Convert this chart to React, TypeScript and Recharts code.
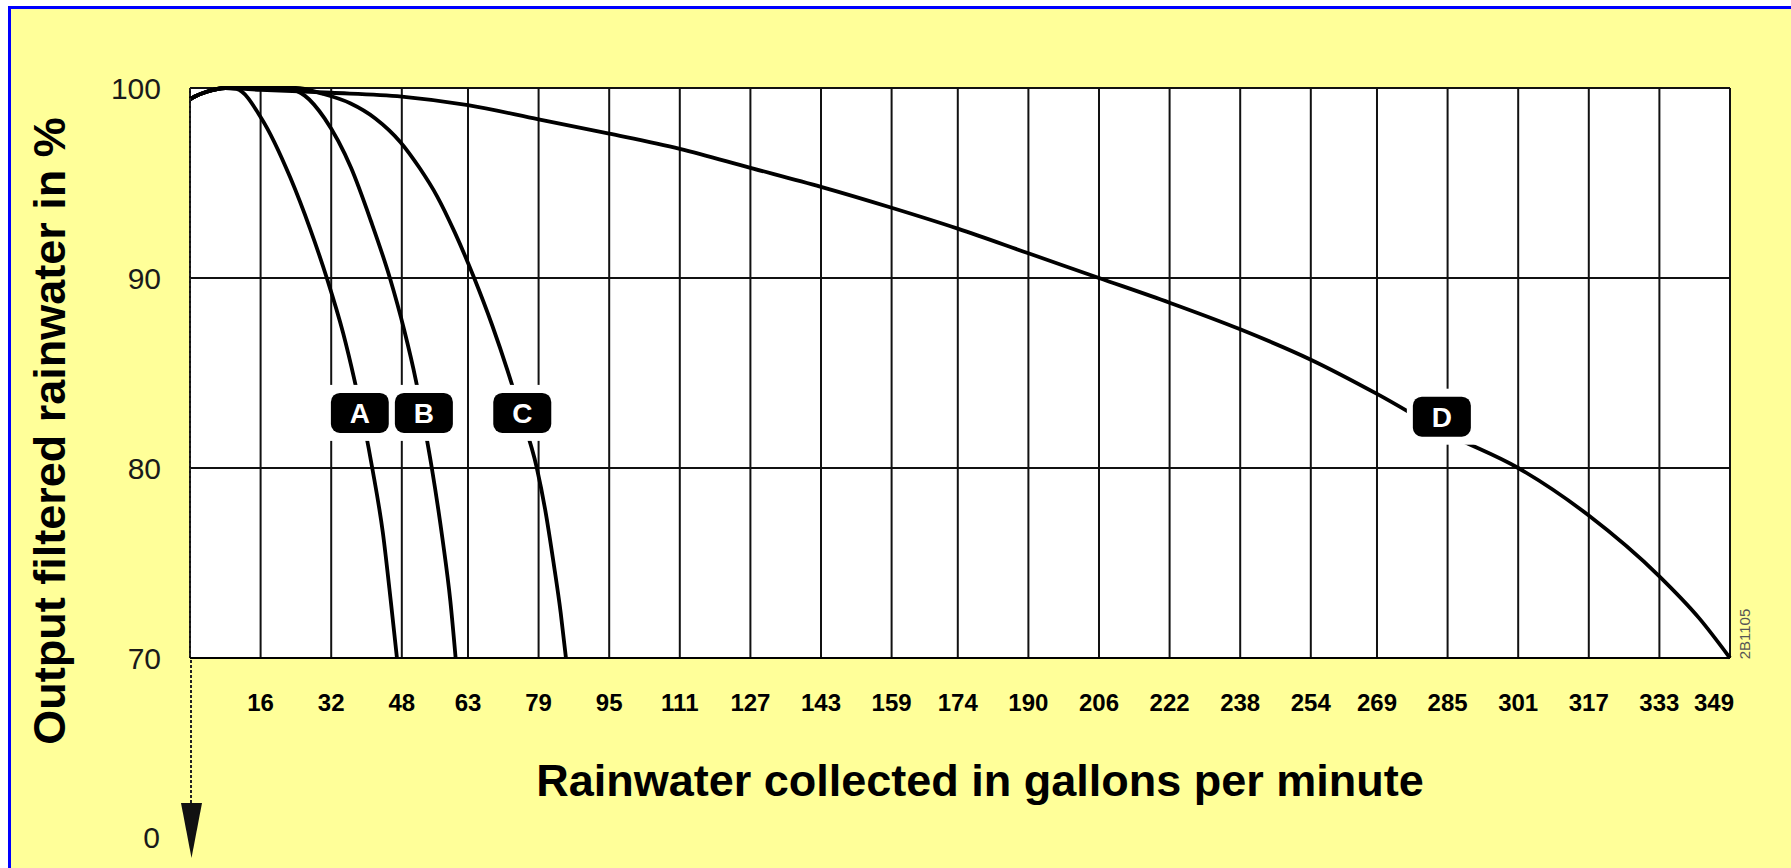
import { LineChart, Line, XAxis, YAxis, CartesianGrid, ReferenceDot } from 'recharts';

const W = 1791;
const H = 868;
const FONT = '"Liberation Sans", Arial, Helvetica, sans-serif';

// gallons per minute (gridlines every 60 l/min)
const xTicks = [16, 32, 48, 63, 79, 95, 111, 127, 143, 159, 174, 190, 206, 222, 238, 254, 269, 285, 301, 317, 333, 349];
const yTicks = [70, 80, 90, 100];

// curve A
const aX = [0, 1.1, 3.8, 8, 10.5, 16.2, 22.7, 27.2, 31, 34.7, 37.3, 39.7, 41.3, 43.7, 45.5, 46.9];
const aY = [99.4, 99.55, 99.8, 100, 99.95, 98.4, 95.3, 92.6, 90, 87.1, 84.6, 82, 80, 76.6, 73, 70];
// curve B
const bX = [0, 1.1, 3.8, 8, 18, 22, 26, 30.5, 36.5, 41, 45.3, 48.5, 51.2, 53.3, 54.8, 57.2, 59, 60.2];
const bY = [99.4, 99.55, 99.8, 100, 100, 99.95, 99.6, 98.4, 95.8, 93.0, 90, 87.3, 84.6, 82, 80, 76.3, 73, 70];
// curve C
const cX = [0, 1.1, 3.8, 8, 24, 30, 36.3, 42, 47.7, 52, 56, 60, 64.4, 68.5, 72, 74.8, 78.6, 80.5, 82.4, 84, 85.2];
const cY = [99.4, 99.55, 99.8, 100, 100, 99.7, 99.2, 98.4, 97.15, 95.8, 94.3, 92.4, 90, 87.5, 85.1, 83, 80, 77.8, 75, 72.4, 70];
// curve D
const dX = [0, 1.1, 3.8, 8, 16, 32, 48, 63, 79, 95, 111, 127, 143, 159, 174, 190, 206, 222, 238, 254, 269, 285, 301, 317, 333, 342, 349];
const dY = [99.4, 99.55, 99.8, 100, 99.9, 99.75, 99.55, 99.1, 98.35, 97.6, 96.8, 95.8, 94.8, 93.7, 92.6, 91.3, 90, 88.7, 87.3, 85.7, 83.9, 81.8, 80, 77.5, 74.3, 72.1, 70];

const tagNames = ['A', 'B', 'C', 'D'];
const tagX = [38.5, 53.0, 75.3, 283.7];
const tagY = [82.9, 82.9, 82.9, 82.7];

const toPoints = (xs: number[], ys: number[]) => xs.map((x, i) => ({ x, y: ys[i] }));
const curves = [toPoints(aX, aY), toPoints(bX, bY), toPoints(cX, cY), toPoints(dX, dY)];

function Tag({ cx, cy, letter }: { cx: number; cy: number; letter: string }) {
  return (
    <g>
      <rect x={cx - 35} y={cy - 28} width={70} height={56} fill="#fff" />
      <rect x={cx - 29} y={cy - 20} width={58} height={40} rx={9} fill="#000" />
      <text x={cx} y={cy} dy="0.36em" textAnchor="middle" fill="#fff" fontSize={28} fontWeight="bold" fontFamily={FONT}>
        {letter}
      </text>
    </g>
  );
}

function XTick(props: any) {
  const { x, y, payload } = props;
  const last = payload.value === xTicks[xTicks.length - 1];
  return (
    <text
      x={last ? x + 4 : x}
      y={y}
      dy="0.71em"
      textAnchor={last ? 'end' : 'middle'}
      fontSize={24}
      fontWeight="bold"
      fill="#000"
      fontFamily={FONT}
    >
      {payload.value}
    </text>
  );
}

export default function App() {
  return (
    <div style={{ position: 'relative', width: W, height: H, background: '#fff', overflow: 'hidden' }}>
      <style>{'body{margin:0}'}</style>
      <div
        style={{
          position: 'absolute', left: 8, top: 6, right: 0, bottom: 0,
          background: '#ffff99', borderLeft: '3px solid #0000ff', borderTop: '3px solid #0000ff',
        }}
      />
      <div style={{ position: 'absolute', left: 0, top: 0 }}>
        <LineChart width={W} height={H} margin={{ top: 88, right: 61, bottom: 150, left: 90 }}>
          <CartesianGrid stroke="#111" strokeWidth={2} fill="#fff" fillOpacity={1} />
          <XAxis
            type="number"
            dataKey="x"
            domain={[0, 349]}
            ticks={xTicks}
            interval={0}
            height={60}
            tickLine={false}
            tickSize={0}
            tickMargin={36}
            axisLine={{ stroke: '#000', strokeWidth: 2 }}
            tick={(p: any) => <XTick {...p} />}
          />
          <YAxis
            type="number"
            domain={[70, 100]}
            ticks={yTicks}
            interval={0}
            width={100}
            tickLine={false}
            tickSize={0}
            tickMargin={29}
            axisLine={{ stroke: '#222', strokeWidth: 2, strokeDasharray: '3 2' }}
            tick={{ fill: '#1a1a1a', fontSize: 30, fontFamily: FONT }}
          />
          {curves.map((d, i) => (
            <Line
              key={tagNames[i]}
              data={d}
              dataKey="y"
              type="monotone"
              stroke="#000"
              strokeWidth={3.8}
              dot={false}
              activeDot={false}
              isAnimationActive={false}
            />
          ))}
          {tagNames.map((n, i) => (
            <ReferenceDot
              key={n}
              x={tagX[i]}
              y={tagY[i]}
              r={1}
              ifOverflow="visible"
              shape={(p: any) => <Tag cx={p.cx} cy={p.cy} letter={n} />}
            />
          ))}
        </LineChart>
      </div>
      <svg
        width={W}
        height={H}
        style={{ position: 'absolute', left: 0, top: 0, pointerEvents: 'none' }}
        fontFamily={FONT}
      >
        <text x={980} y={796} textAnchor="middle" fontSize={45} fontWeight="bold" fill="#000">
          Rainwater collected in gallons per minute
        </text>
        <text transform="translate(65 431) rotate(-90)" textAnchor="middle" fontSize={45} fontWeight="bold" fill="#000">
          Output filtered rainwater in %
        </text>
        <text x={160} y={848} textAnchor="end" fontSize={30} fill="#1a1a1a">0</text>
        <line x1={191} y1={660} x2={191} y2={806} stroke="#222" strokeWidth={2} strokeDasharray="3 2" />
        <polygon points="181,803 202,803 191.5,858" fill="#111" />
        <text transform="translate(1750 634) rotate(-90)" textAnchor="middle" fontSize={15} fill="#555">
          2B1105
        </text>
      </svg>
    </div>
  );
}
